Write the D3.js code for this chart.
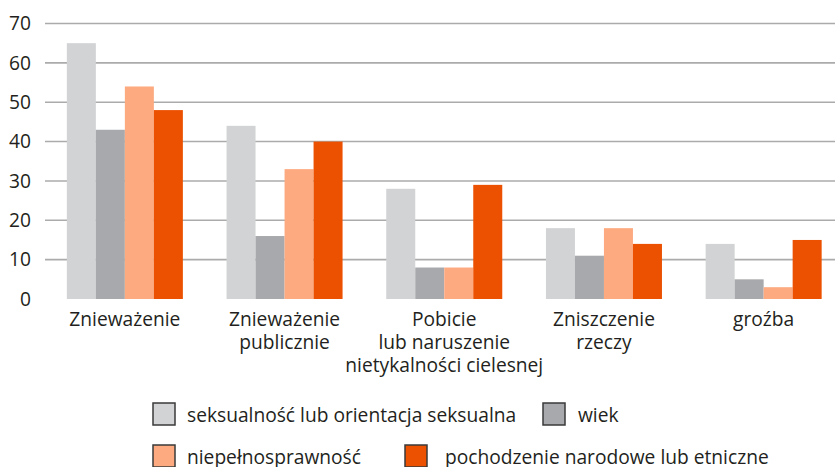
<!DOCTYPE html>
<html>
<head>
<meta charset="utf-8">
<script src="https://cdn.jsdelivr.net/npm/d3@7"></script>
<style>
  body { margin: 0; background: #fff; }
  svg { display: block; font-family: "Open Sans", sans-serif; }
</style>
</head>
<body>
<div id="chart"></div>
<script>
// Data
const categories = ["Znieważenie", "Znieważenie\npublicznie", "Pobicie\nlub naruszenie\nnietykalności cielesnej", "Zniszczenie\nrzeczy", "groźba"];
const seriesNames = ["seksualność lub orientacja seksualna", "wiek", "niepełnosprawność", "pochodzenie narodowe lub etniczne"];
const sexualOrientation = [65, 44, 28, 18, 14];
const age = [43, 16, 8, 11, 5];
const disability = [54, 33, 8, 18, 3];
const ethnicOrigin = [48, 40, 29, 14, 15];
const yTicks = [0, 10, 20, 30, 40, 50, 60, 70];
const colors = ["#d1d3d4", "#a7a9ac", "#fdaa80", "#eb5100"];

const seriesValues = [sexualOrientation, age, disability, ethnicOrigin];
const rows = categories.map((c, i) => ({
  cat: c,
  values: seriesNames.map((s, j) => ({ key: s, value: seriesValues[j][i] }))
}));

const W = 835, H = 467;
const plotLeft = 45, zeroY = 299, topY = 23.5;
const fontSize = "19.2px";

const svg = d3.select("#chart").append("svg")
  .attr("width", W)
  .attr("height", H);

// Scales
const x0 = d3.scaleBand()
  .domain(categories)
  .range([plotLeft, 843.5])
  .paddingInner(0.2735)
  .paddingOuter(0.1368);

const x1 = d3.scaleBand()
  .domain(seriesNames)
  .range([0, x0.bandwidth()]);

const y = d3.scaleLinear()
  .domain([0, 70])
  .range([zeroY, topY]);

const color = d3.scaleOrdinal().domain(seriesNames).range(colors);

// Gridlines
svg.append("g")
  .selectAll("line")
  .data(yTicks.filter(d => d > 0))
  .join("line")
    .attr("x1", plotLeft)
    .attr("x2", W)
    .attr("y1", d => y(d))
    .attr("y2", d => y(d))
    .attr("stroke", "#ababab")
    .attr("stroke-width", 1.6);

// Y axis labels
const yAxis = svg.append("g")
  .attr("transform", `translate(${plotLeft},0)`)
  .call(d3.axisLeft(y).tickValues(yTicks).tickSize(0).tickPadding(14));
yAxis.select(".domain").remove();
yAxis.selectAll("text")
  .attr("fill", "#231f20")
  .style("font-size", fontSize)
  .style("font-family", "'Open Sans', sans-serif");

// Bars
svg.append("g")
  .selectAll("g")
  .data(rows)
  .join("g")
    .attr("transform", d => `translate(${x0(d.cat)},0)`)
  .selectAll("rect")
  .data(d => d.values)
  .join("rect")
    .attr("x", d => x1(d.key))
    .attr("y", d => y(d.value))
    .attr("width", x1.bandwidth())
    .attr("height", d => zeroY - y(d.value))
    .attr("fill", d => color(d.key));

// X axis category labels (multi-line)
const xAxis = svg.append("g")
  .attr("transform", `translate(0,${zeroY})`)
  .call(d3.axisBottom(x0).tickSize(0));
xAxis.select(".domain").remove();
xAxis.selectAll("text")
  .attr("y", 27)
  .attr("dy", null)
  .attr("fill", "#231f20")
  .style("font-size", fontSize)
  .style("font-family", "'Open Sans', sans-serif")
  .each(function(d) {
    const t = d3.select(this);
    t.text(null);
    d.split("\n").forEach((line, i) => {
      t.append("tspan")
        .attr("x", 0)
        .attr("dy", i === 0 ? 0 : 23)
        .text(line);
    });
  });

// Legend
const legendPos = [
  { x: 153, y: 403, tx: 187 },
  { x: 543, y: 403, tx: 578 },
  { x: 153, y: 445, tx: 187 },
  { x: 405, y: 445, tx: 445 }
];
const legend = svg.append("g")
  .selectAll("g")
  .data(seriesNames)
  .join("g");

legend.append("rect")
  .attr("x", (d, i) => legendPos[i].x)
  .attr("y", (d, i) => legendPos[i].y)
  .attr("width", 22)
  .attr("height", 22)
  .attr("fill", d => color(d))
  .attr("stroke", "#3a3a3a")
  .attr("stroke-width", 1.5);

legend.append("text")
  .attr("x", (d, i) => legendPos[i].tx)
  .attr("y", (d, i) => legendPos[i].y + 18.5)
  .attr("fill", "#231f20")
  .style("font-size", fontSize)
  .text(d => d);
</script>
</body>
</html>
